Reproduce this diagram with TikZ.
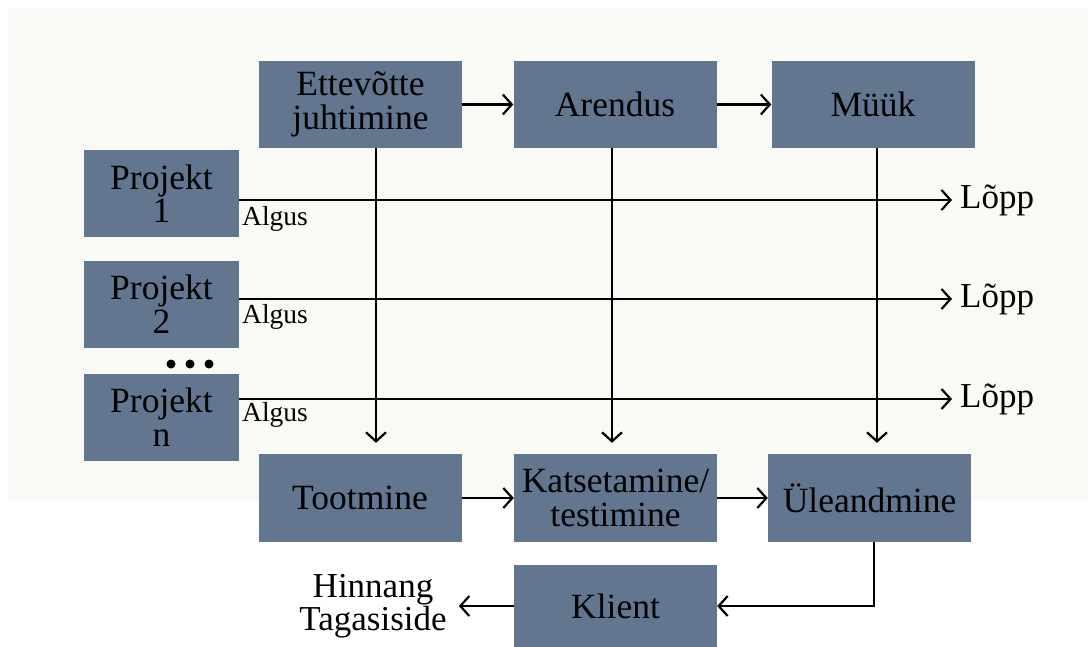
\documentclass[tikz,border=0pt]{standalone}
\usepackage{fontspec}
\setmainfont{Liberation Serif}
\usetikzlibrary{arrows.meta}
\definecolor{boxc}{HTML}{62778F}
\definecolor{bgc}{HTML}{F9F9F5}
\begin{document}
\begin{tikzpicture}[x=1pt,y=-1pt,
 box/.style={draw=none,fill=boxc,minimum width=203pt,minimum height=87pt,inner sep=0pt,align=center,font=\fontsize{35.5}{33.5}\selectfont},
 pbox/.style={box,minimum width=155pt},
 lbl/.style={inner sep=0pt,font=\fontsize{35}{33.5}\selectfont,align=center},
 small/.style={inner sep=0pt,font=\fontsize{27.5}{27.5}\selectfont},
 arr/.style={-{Straight Barb[length=9pt,width=20pt]},line width=2.2pt},
 ln/.style={line width=2.2pt}]
\useasboundingbox (0,0) rectangle (1088,646);
\fill[bgc] (8,8) rectangle (1088,500);
% top row
\node[box] (ett) at (360.5,104.5) {Ettevõtte\\juhtimine};
\node[box] (are) at (615,104.5) {Arendus};
\node[box] (myy) at (873,104.5) {Müük};
% projects
\node[pbox] (p1) at (161.5,193.5) {Projekt\\1};
\node[pbox] (p2) at (161.5,304) {Projekt\\2};
\node[pbox] (pn) at (161.5,417) {Projekt\\n};
\fill (171,364) circle[radius=4.5pt] (190,364) circle[radius=4.5pt] (209,364) circle[radius=4.5pt];
% bottom row
\node[box,minimum height=88pt] (too) at (360,498) {Tootmine};
\node[box,minimum height=88pt] (kat) at (615.5,498) {Katsetamine/\\testimine};
\node[box,minimum height=88pt] (yle) at (869.5,498) {Üleandmine};
\node[box,minimum height=82pt] (kli) at (615.5,606) {Klient};
\node[lbl,inner xsep=12pt] (hin) at (373,606) {Hinnang\\Tagasiside};
% end labels
\node[lbl,anchor=west,inner xsep=8pt] (lop1) at (952,200) {Lõpp};
\node[lbl,anchor=west,inner xsep=8pt] (lop2) at (952,299) {Lõpp};
\node[lbl,anchor=west,inner xsep=8pt] (lop3) at (952,399) {Lõpp};
% start labels
\node[small,anchor=west] (a1) at (242,219) {Algus};
\node[small,anchor=west] (a2) at (242,317) {Algus};
\node[small,anchor=west] (a3) at (242,415) {Algus};
% column coordinates
\coordinate (v1) at (376,0);
\coordinate (v2) at (612,0);
\coordinate (v3) at (877,0);
\coordinate (v4) at (874,0);
% connectors
\draw[arr] (ett.east) -- (are.west);
\draw[arr] (are.east) -- (myy.west);
\draw[arr] (p1.east |- lop1.west) -- (lop1.west);
\draw[arr] (p2.east |- lop2.west) -- (lop2.west);
\draw[arr] (pn.east |- lop3.west) -- (lop3.west);
\draw[arr,shorten >=11pt] (ett.south -| v1) -- (too.north -| v1);
\draw[arr,shorten >=11pt] (are.south -| v2) -- (kat.north -| v2);
\draw[arr,shorten >=11pt] (myy.south -| v3) -- (yle.north -| v3);
\draw[arr] (too.east) -- (kat.west);
\draw[arr] (kat.east) -- (yle.west);
\draw[arr] (yle.south -| v4) |- (kli.east);
\draw[arr] (kli.west) -- (hin.east);
\end{tikzpicture}
\end{document}
